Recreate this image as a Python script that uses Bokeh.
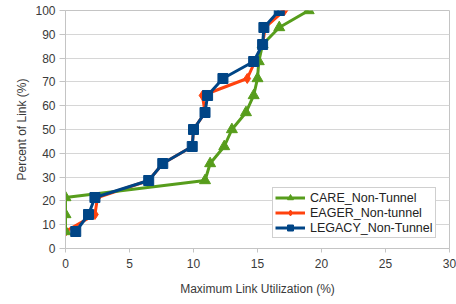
from bokeh.plotting import figure
from bokeh.models import Legend, LegendItem, FixedTicker, Range1d
from bokeh.embed import file_html
from bokeh.resources import INLINE

percent = [7.14, 14.29, 21.43, 28.57, 35.71, 42.86, 50.0, 57.14, 64.29, 71.43, 78.57, 85.71, 92.86, 100.0]
care = [0.0, 0.0, 0.0, 10.9, 11.3, 12.4, 13.0, 14.1, 14.7, 15.0, 15.1, 15.4, 16.7, 19.0]
eager = [0.0, 2.3, 2.5, 6.5, 7.6, 9.9, 10.0, 10.9, 10.7, 14.2, 14.8, 15.4, 15.6, 17.1]
legacy = [0.8, 1.8, 2.3, 6.5, 7.6, 9.9, 10.0, 10.9, 11.1, 12.3, 14.7, 15.4, 15.5, 16.7]
x_ticks = [0, 5, 10, 15, 20, 25, 30]
y_ticks = [0, 10, 20, 30, 40, 50, 60, 70, 80, 90, 100]

GREEN = "#579d1c"
ORANGE = "#ff420e"
BLUE = "#004586"
FONT = "Liberation Sans"
TXT = "#3a3a3a"

p = figure(width=456, height=304, output_backend="svg", toolbar_location=None,
           x_range=Range1d(0, 30), y_range=Range1d(0, 100),
           frame_width=384, frame_height=238,
           min_border_left=65, min_border_right=7, min_border_top=10, min_border_bottom=56)
p.background_fill_color = "white"
p.border_fill_color = "white"
p.outline_line_color = "#c4c4c4"
p.outline_line_width = 1

p.xgrid.grid_line_color = None
p.ygrid.grid_line_color = "#d6d6d6"
p.ygrid.grid_line_width = 1

for ax in (p.xaxis[0], p.yaxis[0]):
    ax.axis_line_color = "#c4c4c4"
    ax.major_tick_line_color = "#c4c4c4"
    ax.minor_tick_line_color = None
    ax.major_tick_in = 0
    ax.major_label_text_font = FONT
    ax.major_label_text_font_size = "12px"
    ax.major_label_text_color = TXT
    ax.axis_label_text_font = FONT
    ax.axis_label_text_font_size = "12px"
    ax.axis_label_text_font_style = "normal"
    ax.axis_label_text_color = TXT

p.xaxis.ticker = FixedTicker(ticks=x_ticks)
p.yaxis.ticker = FixedTicker(ticks=y_ticks)
p.xaxis.major_tick_out = 4
p.yaxis.major_tick_out = 6
p.xaxis.major_label_standoff = 6
p.yaxis.major_label_standoff = 4
p.xaxis.axis_label = "Maximum Link Utilization (%)"
p.yaxis.axis_label = "Percent of Link (%)"
p.xaxis.axis_label_standoff = 11
p.yaxis.axis_label_standoff = 3

l2 = p.line(eager, percent, line_color=ORANGE, line_width=3)
m2 = p.scatter(eager, percent, marker="diamond", size=10, fill_color=ORANGE, line_color=ORANGE)
l1 = p.line(care, percent, line_color=GREEN, line_width=3)
m1 = p.scatter(care, percent, marker="triangle", size=11, fill_color=GREEN, line_color=GREEN)
l3 = p.line(legacy, percent, line_color=BLUE, line_width=3)
m3 = p.scatter(legacy, percent, marker="square", size=10, fill_color=BLUE, line_color=BLUE)

legend = Legend(items=[
    LegendItem(label="CARE_Non-Tunnel", renderers=[l1, m1]),
    LegendItem(label="EAGER_Non-tunnel", renderers=[l2, m2]),
    LegendItem(label="LEGACY_Non-Tunnel", renderers=[l3, m3]),
], location=(207, 10))
legend.label_text_font = FONT
legend.label_text_font_size = "12.5px"
legend.label_text_color = "#222222"
legend.glyph_width = 30
legend.glyph_height = 15
legend.label_height = 15
legend.label_standoff = 5
legend.padding = 2
legend.spacing = 0
legend.margin = 0
legend.border_line_color = "#a0a0a0"
legend.border_line_width = 1
legend.background_fill_color = "white"
legend.background_fill_alpha = 1
p.add_layout(legend, "center")

open("out.html", "w").write(file_html(p, INLINE))
